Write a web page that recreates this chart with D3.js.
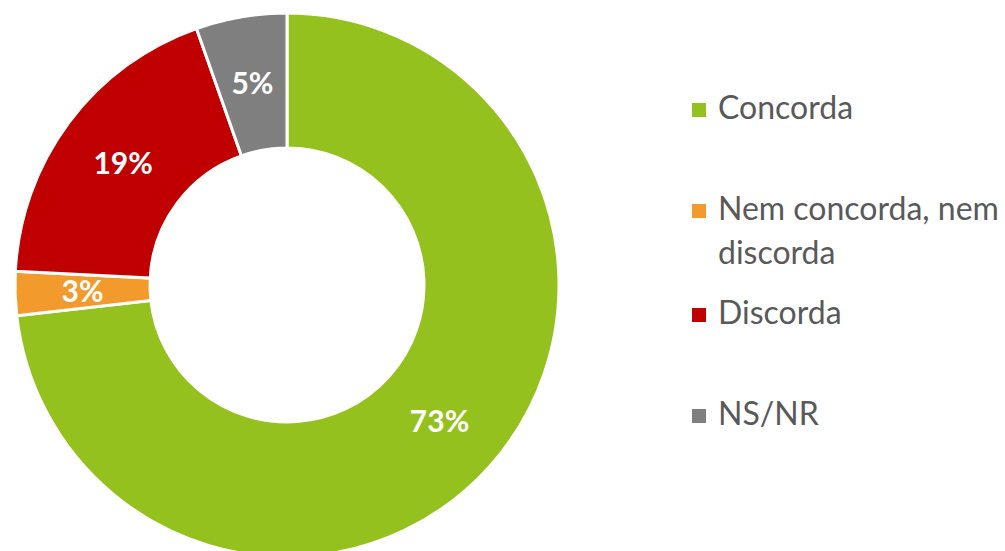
<!DOCTYPE html>
<html>
<head>
<meta charset="utf-8">
<script src="https://cdn.jsdelivr.net/npm/d3@7"></script>
<style>
  body { margin: 0; background: #fff; }
  svg { display: block; }
</style>
</head>
<body>
<div id="chart"></div>
<script>
// categories and shares (%)
var categories = ["Concorda", "Nem concorda, nem discorda", "Discorda", "NS/NR"];
var values = [73.2, 2.6, 18.8, 5.4];
var legendLines = [["Concorda"], ["Nem concorda, nem", "discorda"], ["Discorda"], ["NS/NR"]];
var colors = ["#95C11F", "#F39A2C", "#C00000", "#7F7F7F"];

var width = 1005, height = 551;
var svg = d3.select("#chart").append("svg")
  .attr("width", width)
  .attr("height", height);

var cx = 287, cy = 285, outerR = 272, innerR = 137;

var data = categories.map(function (c, i) { return { name: c, value: values[i], color: colors[i] }; });

var pie = d3.pie().sort(null).value(function (d) { return d.value; });
var arc = d3.arc().innerRadius(innerR).outerRadius(outerR);

var g = svg.append("g").attr("transform", "translate(" + cx + "," + cy + ")");

var arcs = pie(data);

g.selectAll("path.slice")
  .data(arcs)
  .enter()
  .append("path")
    .attr("class", "slice")
    .attr("d", arc)
    .attr("fill", function (d) { return d.data.color; })
    .attr("stroke", "#fff")
    .attr("stroke-width", 3)
    .attr("stroke-linejoin", "miter");

// percent labels in the middle of each ring segment
g.selectAll("text.lbl")
  .data(arcs)
  .enter()
  .append("text")
    .attr("class", "lbl")
    .attr("transform", function (d) { return "translate(" + arc.centroid(d) + ")"; })
    .attr("text-anchor", "middle")
    .attr("dy", "0.36em")
    .style("font-family", "Lato, 'Open Sans', sans-serif")
    .style("font-weight", "bold")
    .style("font-size", "30px")
    .style("fill", "#fff")
    .text(function (d) { return Math.round(d.data.value) + "%"; });

// legend
var legendY = [110, 211, 315, 416];
var legend = svg.append("g").attr("transform", "translate(692,0)");
var items = legend.selectAll("g.item")
  .data(data)
  .enter()
  .append("g")
    .attr("class", "item")
    .attr("transform", function (d, i) { return "translate(0," + legendY[i] + ")"; });

items.append("rect")
  .attr("x", 0)
  .attr("y", -7)
  .attr("width", 14)
  .attr("height", 14)
  .attr("fill", function (d) { return d.color; });

items.append("text")
  .attr("x", 26)
  .attr("y", 0)
  .style("font-family", "Lato, 'Open Sans', sans-serif")
  .style("font-size", "32px")
  .style("fill", "#595959")
  .selectAll("tspan")
  .data(function (d, i) { return legendLines[i]; })
  .enter()
  .append("tspan")
    .attr("x", 26)
    .attr("dy", function (d, i) { return i === 0 ? "0.27em" : "1.38em"; })
    .text(function (d) { return d; });
</script>
</body>
</html>
